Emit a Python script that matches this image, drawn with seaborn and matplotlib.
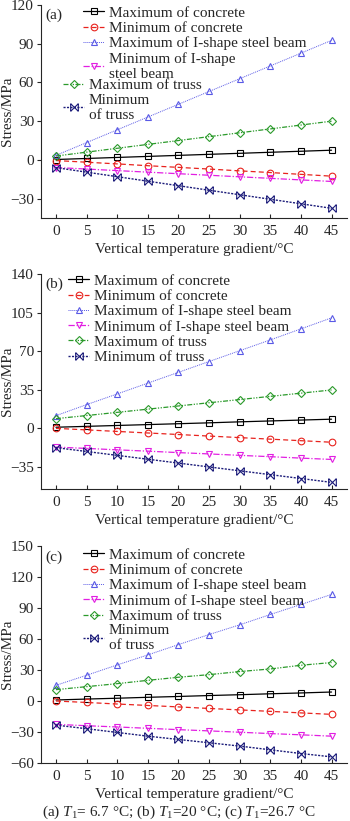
import matplotlib
matplotlib.use("Agg")
import matplotlib.pyplot as plt
from matplotlib.path import Path
import numpy as np
import pandas as pd
import seaborn as sns

# %% data
gradient = [0, 5, 10, 15, 20, 25, 30, 35, 40, 45]

a_max_conc = [0.3, 1.1, 1.9, 2.7, 3.5, 4.3, 5.1, 5.9, 6.7, 7.5]
a_min_conc = [-0.5, -1.8, -3.1, -4.5, -5.8, -7.1, -8.5, -9.8, -11.2, -12.6]
a_max_ibeam = [3.5, 13.4, 23.3, 33.2, 43.1, 53.0, 62.9, 72.8, 82.7, 92.6]
a_min_ibeam = [-5.9, -7.1, -8.3, -9.5, -10.7, -11.9, -13.1, -14.3, -15.5, -16.7]
a_max_truss = [3.0, 6.0, 9.0, 12.0, 15.0, 18.0, 21.0, 24.0, 27.0, 30.0]
a_min_truss = [-6.0, -9.5, -13.0, -16.5, -20.0, -23.5, -27.0, -30.5, -34.0, -37.5]

b_max_conc = [1.0, 1.8, 2.6, 3.4, 4.2, 5.0, 5.9, 6.7, 7.5, 8.3]
b_min_conc = [0.0, -1.4, -2.8, -4.2, -5.6, -7.0, -8.4, -9.8, -11.2, -12.6]
b_max_ibeam = [11.5, 21.5, 31.2, 41.0, 50.8, 60.6, 70.4, 80.2, 90.2, 100.2]
b_min_ibeam = [-17.0, -18.2, -19.5, -20.7, -22.0, -23.2, -24.5, -25.7, -27.0, -28.2]
b_max_truss = [8.8, 11.6, 14.5, 17.4, 20.3, 23.2, 26.1, 29.0, 31.9, 34.8]
b_min_truss = [-17.5, -21.0, -24.5, -28.0, -31.5, -35.0, -38.5, -42.0, -45.5, -49.0]

c_max_conc = [1.0, 1.9, 2.7, 3.6, 4.4, 5.3, 6.1, 7.0, 7.8, 8.7]
c_min_conc = [0.0, -1.4, -2.9, -4.3, -5.7, -7.2, -8.6, -10.0, -11.5, -12.9]
c_max_ibeam = [15.2, 24.9, 34.9, 44.6, 54.6, 64.3, 73.7, 83.7, 93.4, 103.1]
c_min_ibeam = [-22.6, -23.9, -25.1, -26.4, -27.7, -28.9, -30.2, -31.5, -32.7, -34.0]
c_max_truss = [11.0, 13.9, 16.8, 20.0, 23.0, 25.5, 28.5, 31.0, 34.6, 37.2]
c_min_truss = [-23.3, -26.8, -30.4, -34.0, -37.2, -40.4, -43.6, -47.2, -50.8, -54.0]

series_names = ["Maximum of concrete", "Minimum of concrete",
                "Maximum of I-shape steel beam", "Minimum of I-shape steel beam",
                "Maximum of truss", "Minimum of truss"]

# %% style
sns.set_style("ticks")
plt.rcParams['font.family'] = ['Liberation Serif', 'DejaVu Serif']
plt.rcParams['mathtext.fontset'] = 'custom'
plt.rcParams['mathtext.rm'] = 'Liberation Serif'
plt.rcParams['mathtext.it'] = 'Liberation Serif:italic'
FS = 11
plt.rcParams['font.size'] = FS

# hourglass-like star marker
star = Path([(-1, -1), (1, 1), (-1, 1), (1, -1), (-1, -1), (-1, 1), (1, -1), (1, 1)],
            [Path.MOVETO, Path.LINETO, Path.MOVETO, Path.LINETO,
             Path.MOVETO, Path.LINETO, Path.MOVETO, Path.LINETO])

styles = [
    dict(color="black", marker="s", linestyle="-", lw=0.9),
    dict(color="#e8231e", marker="o", linestyle=(0, (4, 2.5)), lw=0.9),
    dict(color="#5a5ae6", marker="^", linestyle=(0, (1, 1)), lw=0.7),
    dict(color="#e21fe2", marker="v", linestyle=(0, (5, 1.5, 1, 1.5)), lw=0.9),
    dict(color="#2b9a2b", marker="D", linestyle=(0, (4, 1.2, 1, 1.2, 1, 1.2)), lw=0.9),
    dict(color="#1c1c7a", marker=star, linestyle=(0, (1.5, 1)), lw=1.0),
]

fig = plt.figure(figsize=(3.5, 8.21), dpi=100)
ax1 = fig.add_axes([0.117, 0.7345, 0.874, 0.2594])
ax2 = fig.add_axes([0.117, 0.4044, 0.874, 0.2619])
ax3 = fig.add_axes([0.117, 0.0706, 0.874, 0.2644])

panels = [
    (ax1, [a_max_conc, a_min_conc, a_max_ibeam, a_min_ibeam, a_max_truss, a_min_truss],
     (-45, 120), np.arange(-30, 121, 30), "(a)"),
    (ax2, [b_max_conc, b_min_conc, b_max_ibeam, b_min_ibeam, b_max_truss, b_min_truss],
     (-55, 140), np.arange(-35, 141, 35), "(b)"),
    (ax3, [c_max_conc, c_min_conc, c_max_ibeam, c_min_ibeam, c_max_truss, c_min_truss],
     (-60, 150), np.arange(-60, 151, 30), "(c)"),
]

for ax, data, ylim, yticks, tag in panels:
    for vals, st in zip(data, styles):
        ms = 5.5 if st["marker"] is star else 4.8
        if st["marker"] == "D":
            ms = 4.5
        sns.lineplot(x=gradient, y=vals, ax=ax, color=st["color"],
                     marker=st["marker"], linestyle=st["linestyle"], lw=st["lw"],
                     markersize=ms, markerfacecolor="none",
                     markeredgecolor=st["color"], markeredgewidth=0.8)
    ax.set_xlim(-2.45, 47.5)
    ax.set_ylim(*ylim)
    ax.set_yticks(yticks)
    ax.set_xticks(gradient)
    sns.despine(ax=ax)
    ax.tick_params(axis="x", direction="in", length=3, width=0.8, labelsize=FS, pad=5)
    ax.tick_params(axis="y", direction="out", length=3, width=0.8, labelsize=FS, pad=2)
    for s in ax.spines.values():
        s.set_linewidth(0.8)
    ax.set_xlabel("Vertical temperature gradient/°C", fontsize=FS, labelpad=3.5)
    ax.set_ylabel("Stress/MPa", fontsize=FS)
    ax.yaxis.set_label_coords(-0.088, 0.5)
    ax.text(0.013, 0.95, tag, transform=ax.transAxes, fontsize=FS, va="center", ha="left")

leg_kw = dict(frameon=False, fontsize=FS, handlelength=1.4, handletextpad=0.3,
              labelspacing=0.1, borderpad=0, borderaxespad=0, loc="upper left")

# (a): two legend blocks
h = ax1.get_lines()
labels_a = ["Maximum of concrete", "Minimum of concrete",
            "Maximum of I-shape steel beam", "Minimum of I-shape\nsteel beam",
            "Maximum of truss", "Minimum\nof truss"]
leg1 = ax1.legend(h[:4], labels_a[:4], bbox_to_anchor=(0.137, 0.995), **leg_kw)
ax1.add_artist(leg1)
ax1.legend(h[4:], labels_a[4:], bbox_to_anchor=(0.072, 0.655), **leg_kw)

# (b)
ax2.legend(ax2.get_lines(), series_names, bbox_to_anchor=(0.088, 1.0), **leg_kw)

# (c)
labels_c = series_names[:5] + ["Minimum\nof truss"]
ax3.legend(ax3.get_lines(), labels_c, bbox_to_anchor=(0.137, 0.99), **leg_kw)

fig.text(0.51, 1 - 812 / 821,
         r"(a) $T_1$= 6.7 °C; (b) $T_1$=20 °C; (c) $T_1$=26.7 °C",
         ha="center", va="center", fontsize=FS)

fig.savefig("out.png", dpi=100)
